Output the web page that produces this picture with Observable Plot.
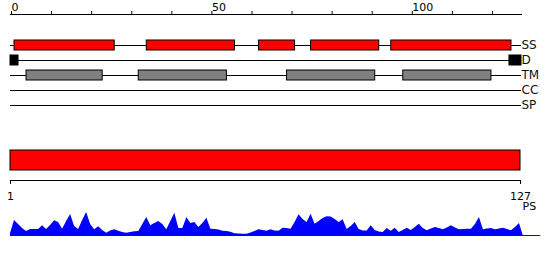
<!DOCTYPE html>
<html>
<head>
<meta charset="utf-8">
<script src="https://cdn.jsdelivr.net/npm/d3@7"></script>
<script src="https://cdn.jsdelivr.net/npm/@observablehq/plot@0.6"></script>
<style>
  html, body { margin: 0; padding: 0; background: white; }
  #chart { width: 550px; height: 260px; position: relative; }
  #chart svg { display: block; }
</style>
</head>
<body>
<div id="chart"></div>
<script>
// ---- data ----
const tracks = ["SS", "D", "TM", "CC", "SP"];
const ssStart = [1, 34, 62, 75, 95];
const ssEnd   = [26, 56, 71, 92, 125];
const dStart  = [0, 124.5];
const dEnd    = [2, 127.5];
const tmStart = [4, 32, 69, 98];
const tmEnd   = [23, 54, 91, 120];
const seqLength = 127;
const topTicks = [0, 10, 20, 30, 40, 50, 60, 70, 80, 90, 100, 110, 120];
const topTickLabels = [0, 50, 100];
const endTicks = [1, 127];
const psLabel = "PS";
const ps = [
  3, 16, 12, 8, 5, 7, 7, 7, 10.7, 7,
  11, 15.7, 14, 7.3, 15, 22, 10, 7, 16, 24,
  12, 6.7, 9.7, 6, 3.3, 5.5, 6.7, 5.3, 4, 3.3,
  4, 4.8, 5, 12, 19, 10.7, 13, 15, 12, 6.7,
  15, 23.3, 8, 8, 19, 13, 14, 9, 13, 18.3,
  7.3, 7, 6.5, 5.3, 5, 4.3, 2.7, 2.5, 2.3, 2.3,
  3.5, 5, 6.7, 6, 5.3, 6.7, 5.5, 5.3, 8.3, 8,
  7.3, 14, 21.7, 17, 14, 22.3, 12.3, 15, 18, 19.7,
  19.5, 17, 14, 16.7, 7, 10, 14, 7, 5.5, 5.5,
  10.7, 6, 4.5, 4, 8, 5.3, 8.3, 4, 6, 8.3,
  6, 9, 12.3, 8, 5.7, 7.5, 9, 8, 6.7, 8.5,
  10.7, 8.5, 6.7, 7, 7.2, 7.3, 12, 19, 6.7, 7.5,
  8, 6.7, 7.5, 8.3, 7, 5.7, 9, 13, 0
];

const seg = (starts, ends, track) => starts.map((s, i) => ({track, start: s, end: ends[i]}));
const ssSeg = seg(ssStart, ssEnd, "SS");
const dSeg = seg(dStart, dEnd, "D");
const tmSeg = seg(tmStart, tmEnd, "TM");

const baseStyle = {fontFamily: "DejaVu Sans", fontSize: "11px", background: "white", color: "black", overflow: "visible"};
const xDomain = [0, 127.5];
const xRange = [10, 521];

// ---- top chart: feature tracks ----
const trackChart = Plot.plot({
  width: 550, height: 140,
  marginTop: 14, marginLeft: 10, marginRight: 29, marginBottom: 0,
  style: baseStyle,
  x: {domain: xDomain, range: xRange},
  y: {type: "band", domain: tracks, range: [35, 115], padding: 1/3, round: false, axis: null},
  marks: [
    Plot.frame({anchor: "top"}),
    Plot.axisX({anchor: "top", ticks: topTicks, tickSize: 4, tickPadding: 0,
      tickFormat: d => topTickLabels.includes(d) ? String(d) : "",
      textAnchor: "start", dx: 1, fontSize: 11}),
    Plot.ruleY(tracks, {y: d => d, x1: 0, x2: 127.5, stroke: "black"}),
    Plot.barX(ssSeg, {x1: "start", x2: "end", y: "track", fill: "#ff0000", stroke: "black"}),
    Plot.barX(dSeg, {x1: "start", x2: "end", y: "track", fill: "black", stroke: "black"}),
    Plot.barX(tmSeg, {x1: "start", x2: "end", y: "track", fill: "#808080", stroke: "black"}),
    Plot.text(tracks, {x: 127.5, y: d => d, text: d => d, textAnchor: "start", fontSize: 12, fill: "#111"})
  ]
});

// ---- middle chart: full-length bar with end labels ----
const seqChart = Plot.plot({
  width: 550, height: 60,
  marginTop: 10, marginLeft: 10, marginRight: 30, marginBottom: 20,
  style: baseStyle,
  x: {domain: [1, seqLength], range: [10, 520]},
  marks: [
    Plot.barX([seqLength], {x1: 1, x2: d => d, insetBottom: 10, fill: "#ff0000", stroke: "black"}),
    Plot.frame({anchor: "bottom"}),
    Plot.axisX({anchor: "bottom", ticks: endTicks, tickSize: 4, tickPadding: 8,
      tickFormat: d => String(d), fontSize: 11})
  ]
});

// ---- bottom chart: PS profile ----
const psChart = Plot.plot({
  width: 550, height: 60,
  marginTop: 0, marginLeft: 10, marginRight: 29, marginBottom: 0,
  style: baseStyle,
  x: {domain: xDomain, range: xRange, axis: null},
  y: {domain: [0, 25], range: [36, 11], axis: null},
  marks: [
    Plot.areaY(ps, {x: (d, i) => i, y: d => d, fill: "#0000ff"}),
    Plot.ruleY([0], {x1: 0, x2: 132.3, stroke: "#0000ff", dy: -1}),
    Plot.text([psLabel], {x: 127.5, text: d => d, frameAnchor: "top", textAnchor: "start", lineAnchor: "top", dx: 1, dy: 2, fontSize: 11})
  ]
});

const el = document.getElementById("chart");
el.append(trackChart, seqChart, psChart);
</script>
</body>
</html>
